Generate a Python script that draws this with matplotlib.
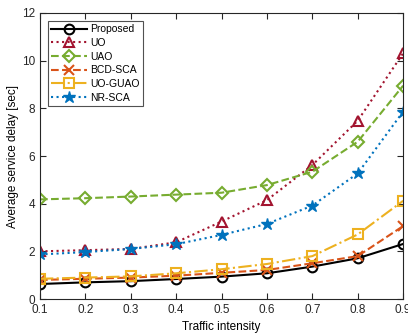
import matplotlib
matplotlib.use("Agg")
import matplotlib.pyplot as plt

plt.rcParams.update({
    "font.family": "Liberation Sans",
    "font.size": 8.5,
    "axes.edgecolor": "#262626",
    "xtick.color": "#262626",
    "ytick.color": "#262626",
})

traffic = [0.1, 0.2, 0.3, 0.4, 0.5, 0.6, 0.7, 0.8, 0.9]
proposed = [0.63, 0.70, 0.75, 0.84, 0.94, 1.08, 1.36, 1.71, 2.31]
uo = [2.00, 2.05, 2.10, 2.38, 3.25, 4.15, 5.62, 7.48, 10.31]
uao = [4.18, 4.23, 4.30, 4.38, 4.46, 4.78, 5.34, 6.60, 8.95]
bcd_sca = [0.80, 0.85, 0.90, 0.98, 1.10, 1.22, 1.50, 1.80, 3.06]
uo_guao = [0.85, 0.90, 0.95, 1.08, 1.25, 1.47, 1.80, 2.71, 4.12]
nr_sca = [1.87, 1.97, 2.10, 2.30, 2.69, 3.15, 3.92, 5.27, 7.86]

series = [
    ("Proposed", proposed, "black", "-", "o", "none"),
    ("UO", uo, "#A2142F", ":", "^", "none"),
    ("UAO", uao, "#77AC30", "--", "D", "none"),
    ("BCD-SCA", bcd_sca, "#D95319", "--", "x", None),
    ("UO-GUAO", uo_guao, "#EDB120", "-.", "s", "none"),
    ("NR-SCA", nr_sca, "#0072BD", ":", "*", None),
]

fig = plt.figure(figsize=(4.08, 3.33), dpi=100)
ax = fig.add_axes([0.098, 0.102, 0.89, 0.859])

for name, ys, c, ls, mk, mfc in series:
    ms = 7 if mk != "D" else 6
    kw = dict(color=c, linestyle=ls, marker=mk, markersize=ms,
              markeredgewidth=1.5, linewidth=1.5, label=name)
    if mfc == "none":
        kw["markerfacecolor"] = "none"
    if mk == "*":
        kw["markersize"] = 9
        kw["markeredgewidth"] = 1.0
    ax.plot(traffic, ys, **kw)

ax.set_xlim(0.1, 0.9)
ax.set_ylim(0, 12)
ax.set_xticks(traffic)
ax.set_yticks([0, 2, 4, 6, 8, 10, 12])
ax.tick_params(direction="in", top=True, right=True, length=4)
ax.set_xlabel("Traffic intensity", labelpad=4)
ax.set_ylabel("Average service delay [sec]", labelpad=2)

leg = ax.legend(loc="upper left", fontsize=7.5, frameon=True, fancybox=False,
                edgecolor="#262626", borderpad=0.3, labelspacing=0.35,
                handlelength=3.4, handletextpad=0.3, borderaxespad=0.8)
leg.get_frame().set_linewidth(0.8)

fig.savefig("out.png", dpi=100)
